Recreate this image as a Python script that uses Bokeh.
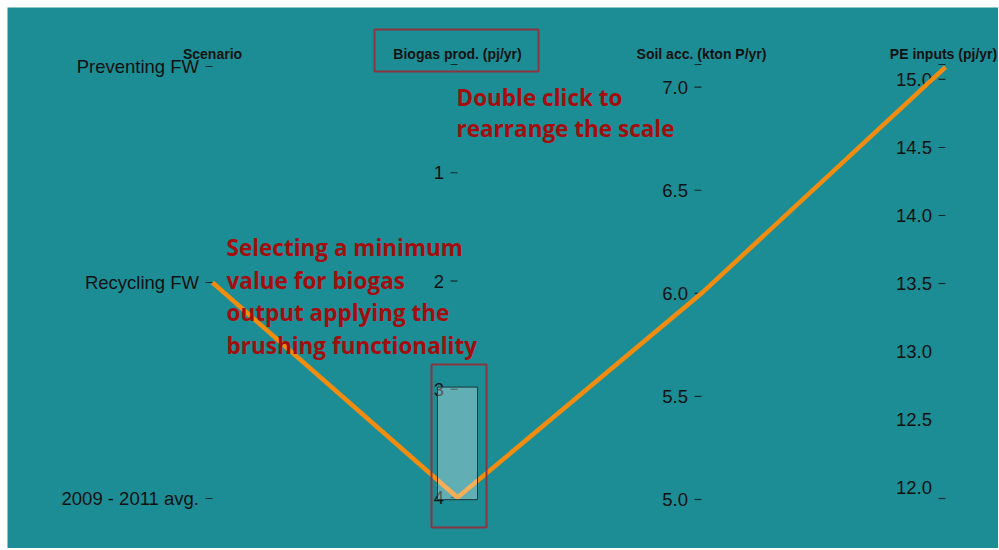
import numpy as np
from bokeh.plotting import figure
from bokeh.models import Range1d
from bokeh.core.properties import value
from bokeh.embed import file_html
from bokeh.resources import INLINE

# ---------------- data ----------------
dimension_titles = ["Scenario", "Biogas prod. (pj/yr)", "Soil acc. (kton P/yr)", "PE inputs (pj/yr)"]
scenario_categories = ["Preventing FW", "Recycling FW", "2009 - 2011 avg."]

biogas_domain = [0.0, 4.0]          # reversed (0 at top)
biogas_ticks = [0, 1, 2, 3, 4]
biogas_tick_labels = ["", "1", "2", "3", "4"]

soil_domain = [5.0, 7.11]
soil_ticks = [5.0, 5.5, 6.0, 6.5, 7.0]
soil_tick_labels = ["5.0", "5.5", "6.0", "6.5", "7.0"]

pe_domain = [11.92, 15.11]
pe_ticks = [12.0, 12.5, 13.0, 13.5, 14.0, 14.5, 15.0]
pe_tick_labels = ["12.0", "12.5", "13.0", "13.5", "14.0", "14.5", "15.0"]
pe_tick_marks = [13.5, 14.0, 14.5, 15.0]

# the single row left after brushing
row_scenario = "Recycling FW"
row_biogas = 4.0
row_soil = 6.0
row_pe = 15.09

brush_extent = [2.98, 4.02]   # biogas brush selection

annotation_1 = ["Double click to", "rearrange the scale"]
annotation_2 = ["Selecting a minimum", "value for biogas", "output applying the", "brushing functionality"]

# ---------------- layout ----------------
W, H = 998, 548
AX_X = [212, 457, 701, 945]
TITLE_X = [212, 457, 701, 943]

TEAL = "#1d8d95"
RED = "#a30d0d"
BOX = "#8a3540"
ORANGE = "#f28c0f"
INK = "#111111"


def lin(v, d0, d1, r0, r1):
    v = np.asarray(v, dtype=float)
    return r0 + (v - d0) * (r1 - r0) / (d1 - d0)


def scen_y(c):
    i = scenario_categories.index(c)
    return 66 + i * (498 - 66) / (len(scenario_categories) - 1)


def bio_y(v):
    return lin(v, biogas_domain[0], biogas_domain[1], 64, 497)


def soil_y(v):
    return lin(v, soil_domain[0], soil_domain[1], 499, 64)


def pe_y(v):
    return lin(v, pe_domain[0], pe_domain[1], 498, 64)


p = figure(width=W, height=H, x_range=Range1d(7, W), y_range=Range1d(H, 7),
           min_border_left=7, min_border_top=7, min_border_right=0, min_border_bottom=0,
           toolbar_location=None, output_backend="svg",
           x_axis_type=None, y_axis_type=None)
p.background_fill_color = TEAL
p.border_fill_color = "white"
p.outline_line_color = None
p.xgrid.visible = False
p.ygrid.visible = False

FONT = value("Liberation Sans")


def tick_block(ax, ys, labels, marks_y):
    p.text(x=[ax - 13.5] * len(ys), y=list(ys), text=labels,
           text_align="right", text_baseline="middle", text_font=FONT,
           text_font_size="18.5px", text_color=INK)
    if len(marks_y):
        p.segment(x0=[ax - 7] * len(marks_y), x1=[ax] * len(marks_y), y0=marks_y, y1=marks_y,
                  line_color=INK, line_width=1.2, line_alpha=0.8)


# Scenario axis
sy = [scen_y(c) for c in scenario_categories]
tick_block(AX_X[0], sy, scenario_categories, sy)

# Biogas axis
by = list(bio_y(biogas_ticks))
tick_block(AX_X[1], by, biogas_tick_labels, by)

# Soil axis
soy = list(soil_y(soil_ticks))
tick_block(AX_X[2], soy, soil_tick_labels, soy + [float(soil_y(soil_domain[1]))])

# PE axis
py = list(pe_y(pe_ticks))
tick_block(AX_X[3], py, pe_tick_labels,
           list(pe_y(pe_tick_marks)) + [float(pe_y(pe_domain[0])), float(pe_y(pe_domain[1]))])

# titles
p.text(x=TITLE_X, y=[53] * 4, text=dimension_titles, text_align="center",
       text_baseline="middle", text_font=FONT, text_font_size="14px",
       text_font_style="bold", text_color=INK)

# the polyline
xs = AX_X
ys = [scen_y(row_scenario), float(bio_y(row_biogas)), float(soil_y(row_soil)), float(pe_y(row_pe))]
p.line(xs, ys, line_color=ORANGE, line_width=4.5, line_join="round")

# brush
p.quad(left=[AX_X[1] - 20], right=[AX_X[1] + 20],
       top=[float(bio_y(brush_extent[0]))], bottom=[float(bio_y(brush_extent[1]))],
       fill_color="white", fill_alpha=0.3, line_color="#1a3436", line_width=1)

# annotation boxes
p.quad(left=[374, 431], right=[538, 486], top=[29, 364], bottom=[71, 527],
       fill_color=None, line_color=BOX, line_width=2)

# annotation texts
AFONT = value("Open Sans")
p.text(x=[456] * len(annotation_1), y=[97 + 31 * i for i in range(len(annotation_1))],
       text=annotation_1, text_align="left", text_baseline="middle",
       text_font=AFONT, text_font_style="bold", text_font_size="22.5px", text_color=RED)
p.text(x=[226] * len(annotation_2), y=[247 + 32.7 * i for i in range(len(annotation_2))],
       text=annotation_2, text_align="left", text_baseline="middle",
       text_font=AFONT, text_font_style="bold", text_font_size="22.5px", text_color=RED)

open("out.html", "w").write(file_html(p, INLINE))
